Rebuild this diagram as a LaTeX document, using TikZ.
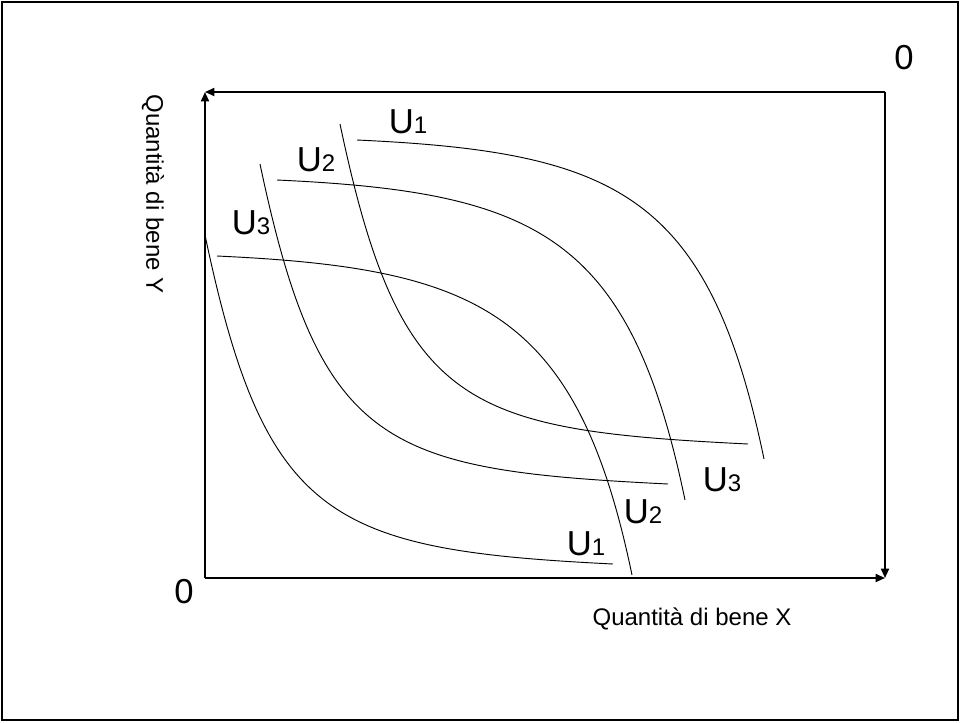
\documentclass[tikz,border=0pt]{standalone}
\usepackage{fontspec}
\setmainfont{Liberation Sans}
\usetikzlibrary{arrows.meta}
\newcommand\usub[1]{{\fontsize{18}{22}\selectfont #1}}
\begin{document}
\begin{tikzpicture}[x=0.75pt,y=-0.75pt,
  axis/.style={line width=1.3pt,-{Triangle[length=7pt,width=6pt]}},
  curve/.style={line width=0.7pt},
  frame/.style={line width=1.5pt},
  ulab/.style={inner sep=0pt,font=\fontsize{26}{30}\selectfont},
  zlab/.style={inner sep=0pt,font=\fontsize{26}{30}\selectfont},
  axlab/.style={inner sep=0pt,font=\fontsize{18}{22}\selectfont}]
\useasboundingbox (0,0) rectangle (960,722);
\draw[frame] (2,2) rectangle (958,720);
% corners of the box
\coordinate (O) at (205,578);
\coordinate (P) at (885,92);
\coordinate (TL) at (205,92);
\coordinate (BR) at (885,578);
\draw[axis] (O) -- (TL);
\draw[axis] (O) -- (BR);
\draw[axis] (P) -- (TL);
\draw[axis] (P) -- (BR);
% labels
\node[zlab] (z1) at (184,592) {0};
\node[zlab] (z2) at (904,58) {0};
\node[axlab] (lx) at (692,619) {Quantità di bene X};
\node[axlab,rotate=-90] (ly) at (153,194) {Quantità di bene Y};
% curves from lower-left origin
\coordinate (A0) at (205,235); \coordinate (A3) at (613,564);
\coordinate (B0) at (260,164); \coordinate (B3) at (668,484);
\coordinate (C0) at (340,124); \coordinate (C3) at (748,444);
\draw[curve] (A0) .. controls (265,520) and (330,550) .. (A3);
\draw[curve] (B0) .. controls (320,449) and (385,470) .. (B3);
\draw[curve] (C0) .. controls (400,409) and (465,430) .. (C3);
% curves from upper-right origin
\coordinate (D0) at (357,140); \coordinate (D3) at (764,459);
\coordinate (E0) at (277,180); \coordinate (E3) at (685,500);
\coordinate (F0) at (217,256); \coordinate (F3) at (632,575);
\draw[curve] (D0) .. controls (617,152) and (709,194) .. (D3);
\draw[curve] (E0) .. controls (537,192) and (630,235) .. (E3);
\draw[curve] (F0) .. controls (477,268) and (577,310) .. (F3);
% U labels
\node[ulab] (u1t) at (408,122) {U\usub{1}};
\node[ulab] (u2t) at (316,160) {U\usub{2}};
\node[ulab] (u3t) at (251,223) {U\usub{3}};
\node[ulab] (u1b) at (586,544) {U\usub{1}};
\node[ulab] (u2b) at (643,512) {U\usub{2}};
\node[ulab] (u3b) at (722,480) {U\usub{3}};
\end{tikzpicture}
\end{document}
